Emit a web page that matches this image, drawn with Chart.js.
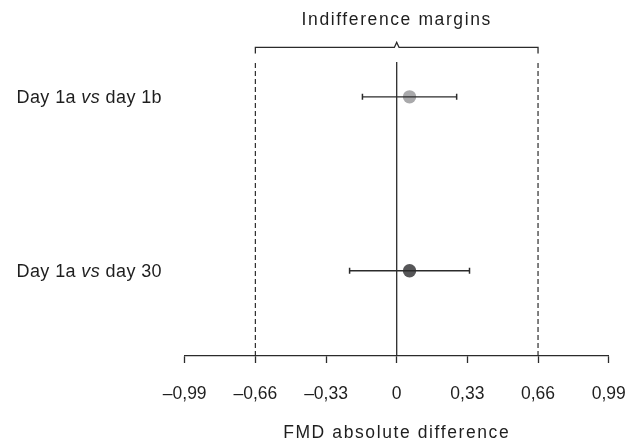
<!DOCTYPE html>
<html>
<head>
<meta charset="utf-8">
<script src="https://cdn.jsdelivr.net/npm/chart.js@4.4.0/dist/chart.umd.min.js"></script>
<style>
  body { margin: 0; background: #fff; }
  canvas { display: block; }
</style>
</head>
<body>
<canvas id="forestChart" width="641" height="444"></canvas>
<script>
// Datos del gráfico
const categories = ['Day 1a vs day 1b', 'Day 1a vs day 30'];
const estimates = [0.06, 0.06];
const lowerCI = [-0.16, -0.22];
const upperCI = [0.28, 0.34];
const pointColors = ['#a9a9ab', '#565658'];
const margins = [-0.66, 0.66];
const tickValues = [-0.99, -0.66, -0.33, 0, 0.33, 0.66, 0.99];
const tickLabels = ['\u20130,99', '\u20130,66', '\u20130,33', '0', '0,33', '0,66', '0,99'];
const topTitle = 'Indifference margins';
const axisTitle = 'FMD absolute difference';

const ink = '#2b2b2b';
const fontFamily = '"Liberation Sans", Arial, sans-serif';

// fila 1 arriba, fila 2 abajo
const rowY = categories.map((c, i) => categories.length - i);
const refTop = 2.2;       // inicio de las líneas verticales
const bracketY = 2.284;   // línea horizontal del corchete
const bracketEnd = 2.249;
const bracketPeak = 2.313;

// Función para construir los datasets
function buildDatasets() {
    const sets = [];

    // Líneas de margen (discontinuas) y línea de cero
    margins.forEach(m => {
        sets.push({
            type: 'line',
            data: [{ x: m, y: 0.51 }, { x: m, y: refTop }],
            borderColor: ink, borderWidth: 1.2, borderDash: [5, 3],
            pointRadius: 0
        });
    });
    sets.push({
        type: 'line',
        data: [{ x: 0, y: 0.51 }, { x: 0, y: refTop }],
        borderColor: ink, borderWidth: 1.3, pointRadius: 0
    });

    // Corchete superior
    sets.push({
        type: 'line',
        data: [
            { x: margins[0], y: bracketEnd }, { x: margins[0], y: bracketY },
            { x: -0.011, y: bracketY }, { x: 0, y: bracketPeak }, { x: 0.011, y: bracketY },
            { x: margins[1], y: bracketY }, { x: margins[1], y: bracketEnd }
        ],
        borderColor: ink, borderWidth: 1.3, pointRadius: 0, tension: 0
    });

    // Intervalos de confianza
    categories.forEach((c, i) => {
        sets.push({
            type: 'line',
            data: [{ x: lowerCI[i], y: rowY[i] }, { x: upperCI[i], y: rowY[i] }],
            borderColor: ink, borderWidth: 1.3,
            pointStyle: 'line', pointRotation: 90, pointRadius: 3,
            pointBorderWidth: 1.5, pointBorderColor: ink
        });
    });

    // Estimaciones puntuales
    sets.push({
        type: 'scatter',
        data: estimates.map((v, i) => ({ x: v, y: rowY[i] })),
        backgroundColor: pointColors,
        borderWidth: 0,
        pointRadius: 6.7
    });
    return sets;
}

// Textos: título superior, etiquetas de fila y título del eje
const textPlugin = {
    id: 'forestText',
    afterDraw(chart) {
        const ctx = chart.ctx;
        const xs = chart.scales.x;
        const ys = chart.scales.y;
        ctx.save();
        ctx.fillStyle = '#1e1e1e';
        ctx.textBaseline = 'alphabetic';

        ctx.letterSpacing = '1.6px';
        ctx.font = '17.5px ' + fontFamily;
        ctx.textAlign = 'center';
        ctx.fillText(topTitle, xs.getPixelForValue(0), 25);
        ctx.fillText(axisTitle, (chart.chartArea.left + chart.chartArea.right) / 2, 438);

        // etiquetas con "vs" en cursiva
        ctx.letterSpacing = '0.4px';
        ctx.textAlign = 'left';
        categories.forEach((label, i) => {
            const parts = label.split(/( vs )/);
            const pieces = [
                { t: parts[0] + ' ', f: '18px ' + fontFamily },
                { t: 'vs', f: 'italic 18px ' + fontFamily },
                { t: ' ' + parts[2], f: '18px ' + fontFamily }
            ];
            let w = 0;
            pieces.forEach(p => { ctx.font = p.f; w += ctx.measureText(p.t).width; });
            let x = 162 - w;
            const y = ys.getPixelForValue(rowY[i]) + 6.5;
            pieces.forEach(p => {
                ctx.font = p.f;
                ctx.fillText(p.t, x, y);
                x += ctx.measureText(p.t).width;
            });
        });
        ctx.letterSpacing = '0px';
        ctx.restore();
    }
};

function createForestChart() {
    const ctx = document.getElementById('forestChart').getContext('2d');
    new Chart(ctx, {
        data: { datasets: buildDatasets() },
        options: {
            responsive: false,
            animation: false,
            layout: { padding: { left: 184.7, right: 32.3, top: 29, bottom: 18 } },
            plugins: { legend: { display: false }, tooltip: { enabled: false } },
            scales: {
                x: {
                    type: 'linear',
                    min: -0.99, max: 0.99,
                    afterBuildTicks: axis => { axis.ticks = tickValues.map(v => ({ value: v })); },
                    afterFit: axis => { axis.paddingLeft = 0; axis.paddingRight = 0; },
                    grid: { drawOnChartArea: false, drawTicks: true, tickLength: 7, tickColor: ink, tickWidth: 1.3 },
                    border: { display: true, color: ink, width: 1.3 },
                    ticks: {
                        autoSkip: false, maxRotation: 0, padding: 21,
                        color: '#1e1e1e',
                        font: { family: fontFamily, size: 17.5 },
                        callback: (v, i) => tickLabels[i]
                    }
                },
                y: { type: 'linear', display: false, min: 0.51, max: 2.39 }
            }
        },
        plugins: [textPlugin]
    });
}

document.addEventListener('DOMContentLoaded', createForestChart);
</script>
</body>
</html>
